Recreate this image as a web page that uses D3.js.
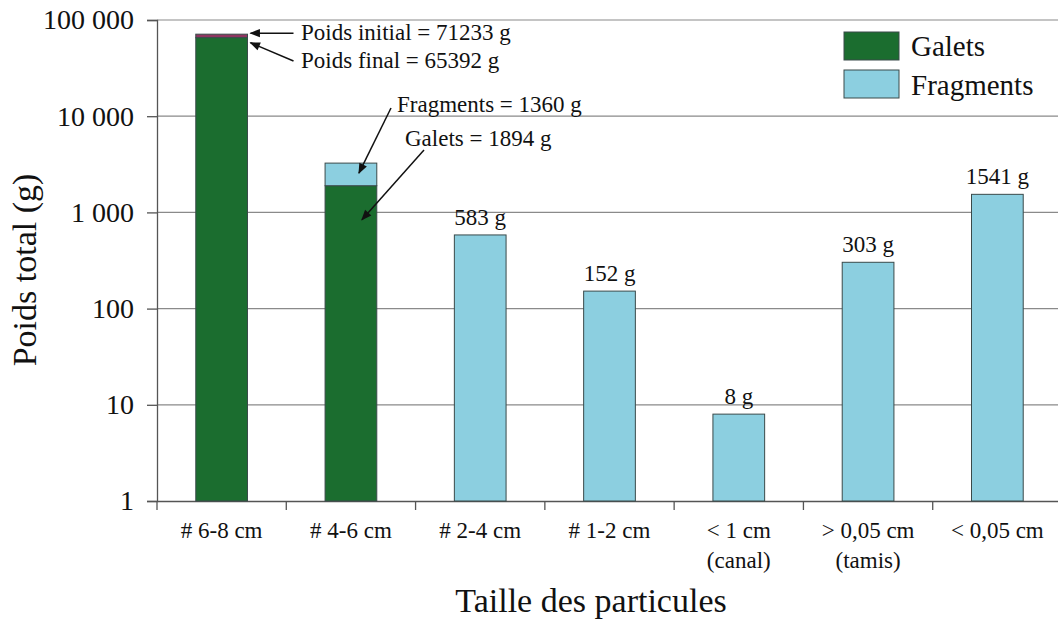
<!DOCTYPE html>
<html><head><meta charset="utf-8">
<script src="https://cdn.jsdelivr.net/npm/d3@7"></script>
<style>body{margin:0;background:#fff}svg{display:block}text{font-family:"Liberation Serif","Times New Roman",serif;fill:#111}</style>
</head><body><svg id="c" width="1058" height="626"></svg>
<script>
const categories = ["# 6-8 cm","# 4-6 cm","# 2-4 cm","# 1-2 cm","< 1 cm","> 0,05 cm","< 0,05 cm"];
const subLabels = ["","","","","(canal)","(tamis)",""];
const galets = [65392, 1894, 0, 0, 0, 0, 0];
const fragments = [0, 1360, 583, 152, 8, 303, 1541];
const initialWeight = [71233, 0, 0, 0, 0, 0, 0];
const valueLabels = ["", "", "583 g", "152 g", "8 g", "303 g", "1541 g"];
const yTicks = [1, 10, 100, 1000, 10000, 100000];
const yTickLabels = ["1","10","100","1 000","10 000","100 000"];
const legendItems = ["Galets","Fragments"];

const cGreen = "#1b6d2f", cBlue = "#8ccfe0", cMag = "#8e3560";
const svg = d3.select("#c");
const x = d3.scaleBand().domain(categories).range([157, 1062]).paddingInner(0.6).paddingOuter(0.3);
const xb = d3.scaleBand().domain(categories).range([157, 1062]);
const y = d3.scaleLog().domain([1, 100000]).range([501, 20]);

// grid
svg.append("g").selectAll("line").data(yTicks.slice(1)).join("line")
  .attr("x1", 157).attr("x2", 1058).attr("y1", d => y(d)).attr("y2", d => y(d))
  .attr("stroke", "#8a8a8a").attr("stroke-width", 1.2);

// y axis
const ya = svg.append("g").attr("transform", "translate(157,0)")
  .call(d3.axisLeft(y).tickValues(yTicks).tickFormat((d,i) => yTickLabels[i]).tickSize(10).tickPadding(13));
ya.select(".domain").attr("stroke", "#555").attr("stroke-width", 1.3);
ya.selectAll(".tick line").attr("stroke", "#555").attr("stroke-width", 1.3);
ya.selectAll("text").style("font-size", "28px").attr("fill", "#111").style("font-family", '"Liberation Serif",serif');

// x axis
const xa = svg.append("g").attr("transform", "translate(0,501)")
  .call(d3.axisBottom(xb).tickSize(0).tickFormat(""));
xa.select(".domain").attr("stroke", "#555").attr("stroke-width", 1.3);
svg.append("g").selectAll("line").data(d3.range(categories.length + 1)).join("line")
  .attr("x1", i => 157 + i * xb.step()).attr("x2", i => 157 + i * xb.step())
  .attr("y1", 501).attr("y2", 510).attr("stroke", "#555").attr("stroke-width", 1.3);
const xl = svg.append("g");
xl.selectAll("text.l1").data(categories).join("text").attr("class","l1")
  .attr("x", d => xb(d) + xb.bandwidth()/2).attr("y", 538).attr("text-anchor","middle")
  .style("font-size","23px").text(d => d);
xl.selectAll("text.l2").data(subLabels).join("text").attr("class","l2")
  .attr("x", (d,i) => xb(categories[i]) + xb.bandwidth()/2).attr("y", 568).attr("text-anchor","middle")
  .style("font-size","23px").text(d => d);

// bars
const g = svg.append("g");
const stroke = "#3a4a4a";
g.selectAll("rect.ini").data(categories.filter((c,i) => initialWeight[i] > 0)).join("rect").attr("class","ini")
  .attr("x", d => x(d)).attr("width", x.bandwidth())
  .attr("y", d => y(initialWeight[categories.indexOf(d)]))
  .attr("height", d => y(galets[categories.indexOf(d)]) - y(initialWeight[categories.indexOf(d)]))
  .attr("fill", cMag).attr("stroke", stroke).attr("stroke-width", 1);
g.selectAll("rect.gal").data(categories.filter((c,i) => galets[i] > 0)).join("rect").attr("class","gal")
  .attr("x", d => x(d)).attr("width", x.bandwidth())
  .attr("y", d => y(galets[categories.indexOf(d)]))
  .attr("height", d => y(1) - y(galets[categories.indexOf(d)]))
  .attr("fill", cGreen).attr("stroke", stroke).attr("stroke-width", 1);
g.selectAll("rect.fra").data(categories.filter((c,i) => fragments[i] > 0)).join("rect").attr("class","fra")
  .attr("x", d => x(d)).attr("width", x.bandwidth())
  .attr("y", d => { const i = categories.indexOf(d); return y(galets[i] + fragments[i]); })
  .attr("height", d => { const i = categories.indexOf(d); return (galets[i] > 0 ? y(galets[i]) : y(1)) - y(galets[i] + fragments[i]); })
  .attr("fill", cBlue).attr("stroke", stroke).attr("stroke-width", 1);

// value labels
g.selectAll("text.val").data(categories.filter((c,i) => valueLabels[i])).join("text").attr("class","val")
  .attr("x", d => x(d) + x.bandwidth()/2)
  .attr("y", d => y(fragments[categories.indexOf(d)]) - 10)
  .attr("text-anchor","middle").style("font-size","23px")
  .text(d => valueLabels[categories.indexOf(d)]);

// annotations
const defs = svg.append("defs");
defs.append("marker").attr("id","ah").attr("viewBox","0 0 10 10").attr("refX",9).attr("refY",5)
  .attr("markerWidth",9).attr("markerHeight",7).attr("orient","auto")
  .append("path").attr("d","M0,1 L10,5 L0,9 Z").attr("fill","#111");
const c0 = categories[0], c1 = categories[1];
const bx0 = x(c0) + x.bandwidth(), bx1 = x(c1) + x.bandwidth()/2;
const ann = svg.append("g");
const arrow = (x1,y1,x2,y2) => ann.append("line").attr("x1",x1).attr("y1",y1).attr("x2",x2).attr("y2",y2)
  .attr("stroke","#111").attr("stroke-width",1.5).attr("marker-end","url(#ah)");
arrow(bx0 + 46, y(initialWeight[0]) - 1, bx0 + 3, y(initialWeight[0]) - 1);
arrow(bx0 + 46, 61, bx0 + 3, y(galets[0]) + 5);
arrow(391, 108, bx1 + 8, y(galets[1] + fragments[1]) + 10);
arrow(424, 150, bx1 + 11, y(galets[1]) + 34);
const annText = (tx, ty, s) => ann.append("text").attr("x", tx).attr("y", ty).style("font-size","23px").text(s);
annText(301, 40, "Poids initial = " + initialWeight[0] + " g");
annText(301, 68, "Poids final = " + galets[0] + " g");
annText(397, 112, "Fragments = " + fragments[1] + " g");
annText(405, 146, "Galets = " + galets[1] + " g");

// legend
const lg = svg.append("g");
lg.append("rect").attr("x", 830).attr("y", 21).attr("width", 228).attr("height", 88).attr("fill","#fff");
legendItems.forEach((t, i) => {
  lg.append("rect").attr("x", 844).attr("y", 32 + i*38).attr("width", 55).attr("height", 28)
    .attr("fill", i === 0 ? cGreen : cBlue).attr("stroke", stroke).attr("stroke-width", 1);
  lg.append("text").attr("x", 911).attr("y", 56 + i*39).style("font-size","29px").text(t);
});

// titles
svg.append("text").attr("transform","translate(36,270) rotate(-90)").attr("text-anchor","middle")
  .style("font-size","34px").text("Poids total (g)");
svg.append("text").attr("x", 591).attr("y", 612).attr("text-anchor","middle")
  .style("font-size","34px").text("Taille des particules");
</script></body></html>
